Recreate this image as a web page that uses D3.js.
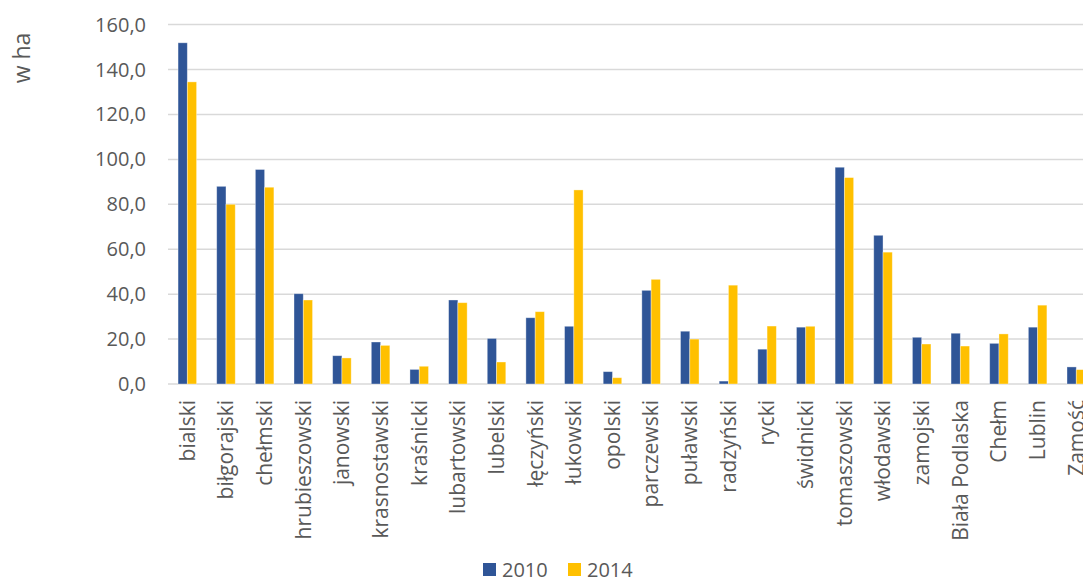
<!DOCTYPE html>
<html>
<head>
<meta charset="utf-8">
<script src="https://cdn.jsdelivr.net/npm/d3@7.9.0/dist/d3.min.js"></script>
<style>
  html, body { margin: 0; padding: 0; background: #fff; overflow: hidden; }
  svg { display: block; font-family: "Open Sans", "Liberation Sans", sans-serif; }
</style>
</head>
<body>
<div id="chart"></div>
<script>
const categories = ["bialski", "biłgorajski", "chełmski", "hrubieszowski", "janowski",
  "krasnostawski", "kraśnicki", "lubartowski", "lubelski", "łęczyński", "łukowski",
  "opolski", "parczewski", "puławski", "radzyński", "rycki", "świdnicki",
  "tomaszowski", "włodawski", "zamojski", "Biała Podlaska", "Chełm", "Lublin", "Zamość"];

const values2010 = [151.9, 88.0, 95.5, 40.2, 12.6, 18.7, 6.5, 37.4, 20.3, 29.5, 25.7,
  5.5, 41.7, 23.5, 1.3, 15.5, 25.3, 96.5, 66.2, 20.8, 22.6, 18.1, 25.3, 7.6];
const values2014 = [134.5, 80.0, 87.6, 37.4, 11.6, 17.2, 7.9, 36.2, 9.8, 32.2, 86.4,
  2.8, 46.6, 20.0, 44.0, 25.8, 25.7, 91.9, 58.7, 17.8, 16.9, 22.3, 35.1, 6.4];

const seriesNames = ["2010", "2014"];
const colors = ["#2F5597", "#FFC000"];
const yTicks = [0, 20, 40, 60, 80, 100, 120, 140, 160];

const width = 1083;
const height = 587;
const plotLeft = 168;
const step = 38.65;
const plotRight = plotLeft + step * categories.length;

const svg = d3.select("#chart").append("svg")
  .attr("width", width)
  .attr("height", height);

const x0 = d3.scaleBand()
  .domain(categories)
  .range([plotLeft, plotRight])
  .paddingInner(0.52)
  .paddingOuter(0.26);

const x1 = d3.scaleBand()
  .domain(seriesNames)
  .range([0, x0.bandwidth()]);

const y = d3.scaleLinear()
  .domain([0, 160])
  .range([384, 24.6]);

// gridlines
svg.append("g")
  .selectAll("line")
  .data(yTicks)
  .join("line")
  .attr("x1", plotLeft)
  .attr("x2", plotRight)
  .attr("y1", d => y(d))
  .attr("y2", d => y(d))
  .attr("stroke", "#d9d9d9")
  .attr("stroke-width", 1.5);

// y tick labels
svg.append("g")
  .selectAll("text")
  .data(yTicks)
  .join("text")
  .attr("x", 146)
  .attr("y", d => y(d))
  .attr("dy", "0.35em")
  .attr("text-anchor", "end")
  .attr("fill", "#595959")
  .style("font-size", "20px")
  .text(d => d3.format(".1f")(d).replace(".", ","));

// y title
svg.append("text")
  .attr("transform", "translate(22,58) rotate(-90)")
  .attr("text-anchor", "middle")
  .attr("dy", "0.35em")
  .attr("fill", "#595959")
  .style("font-size", "23px")
  .text("w ha");

// bars
const rows = categories.map((c, i) => ({ cat: c, vals: [values2010[i], values2014[i]] }));

const groups = svg.append("g")
  .selectAll("g")
  .data(rows)
  .join("g")
  .attr("transform", d => `translate(${x0(d.cat)},0)`);

groups.selectAll("rect")
  .data(d => d.vals.map((v, k) => ({ key: seriesNames[k], value: v, k })))
  .join("rect")
  .attr("x", d => x1(d.key))
  .attr("y", d => y(d.value))
  .attr("width", x1.bandwidth())
  .attr("height", d => y(0) - y(d.value))
  .attr("fill", d => colors[d.k])
  .attr("stroke", "rgba(255,255,255,0.45)")
  .attr("stroke-width", 0.8);

// x labels
svg.append("g")
  .selectAll("text")
  .data(categories)
  .join("text")
  .attr("transform", d => `translate(${x0(d) + x0.bandwidth() / 2},400) rotate(-90)`)
  .attr("dy", "0.35em")
  .attr("text-anchor", "end")
  .attr("fill", "#595959")
  .style("font-size", "21px")
  .text(d => d);

// legend
const legend = svg.append("g")
  .selectAll("g")
  .data(seriesNames)
  .join("g")
  .attr("transform", (d, i) => `translate(${483 + i * 85},563)`);

legend.append("rect")
  .attr("width", 13)
  .attr("height", 13)
  .attr("fill", (d, i) => colors[i]);

legend.append("text")
  .attr("x", 19)
  .attr("y", 7)
  .attr("dy", "0.35em")
  .attr("fill", "#595959")
  .style("font-size", "20px")
  .text(d => d);
</script>
</body>
</html>
